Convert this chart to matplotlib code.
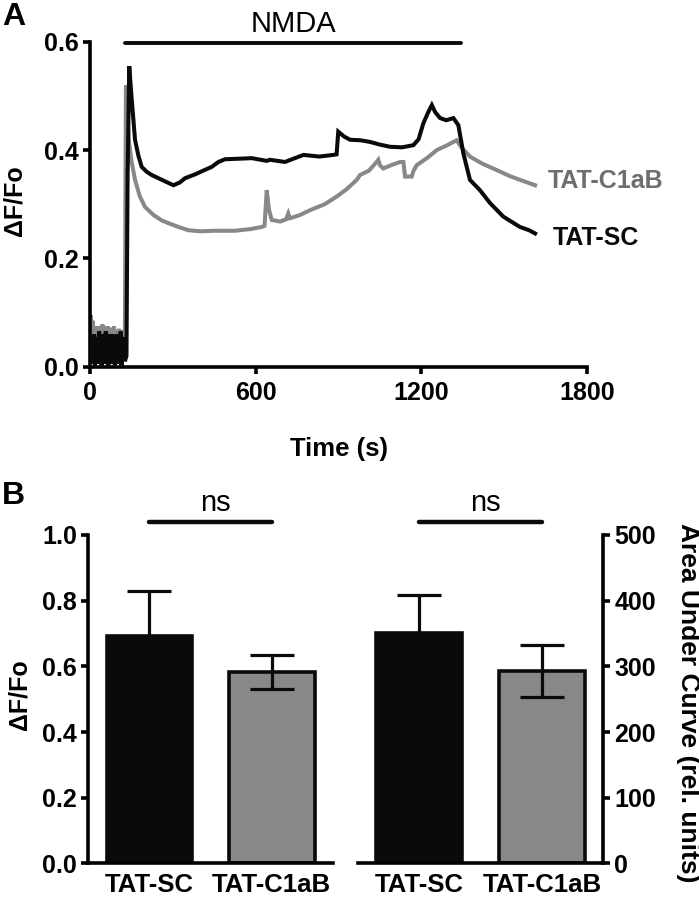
import matplotlib
matplotlib.use("Agg")
import matplotlib.pyplot as plt
import numpy as np

plt.rcParams['font.family'] = ['Liberation Sans', 'DejaVu Sans']

# ---------------- Panel A data ----------------
base_t = list(range(0, 129, 3))
black_base = [0.02, 0.055, 0.005, 0.05, 0.01, 0.06, 0.0, 0.045, 0.015, 0.055, 0.005,
              0.065, 0.01, 0.05, 0.0, 0.06, 0.02, 0.055, 0.005, 0.065, 0.01, 0.05,
              0.0, 0.06, 0.015, 0.055, 0.005, 0.06, 0.01, 0.05, 0.0, 0.055, 0.02,
              0.06, 0.005, 0.05, 0.01, 0.065, 0.0, 0.055, 0.015, 0.05, 0.01]
gray_base = [0.03, 0.095, 0.02, 0.085, 0.03, 0.075, 0.01, 0.07, 0.02, 0.075, 0.03,
             0.07, 0.01, 0.075, 0.02, 0.078, 0.03, 0.072, 0.01, 0.07, 0.02, 0.075,
             0.03, 0.068, 0.01, 0.072, 0.02, 0.07, 0.03, 0.075, 0.01, 0.068, 0.02,
             0.065, 0.03, 0.07, 0.01, 0.065, 0.02, 0.068, 0.03, 0.065, 0.02]

sc_t = [132, 136, 142, 150, 163, 175, 187, 205, 223, 260, 302, 325, 344, 380, 410,
        441, 465, 489, 540, 586, 640, 652, 706, 773, 830, 881, 893, 899, 920, 942,
        980, 1014, 1050, 1087, 1130, 1171, 1190, 1207, 1225, 1238, 1250, 1268, 1290,
        1316, 1334, 1352, 1376, 1412, 1449, 1497, 1557, 1590, 1612]
sc_v = [0.02, 0.35, 0.555, 0.50, 0.419, 0.39, 0.369, 0.36, 0.354, 0.345, 0.335, 0.34,
        0.348, 0.355, 0.362, 0.369, 0.378, 0.383, 0.384, 0.385, 0.38, 0.382, 0.378,
        0.391, 0.388, 0.391, 0.392, 0.434, 0.425, 0.419, 0.418, 0.415, 0.41, 0.406,
        0.405, 0.409, 0.42, 0.449, 0.47, 0.483, 0.47, 0.459, 0.455, 0.459, 0.446,
        0.394, 0.345, 0.326, 0.302, 0.277, 0.258, 0.252, 0.246]

c1_t = [130, 134, 140, 150, 163, 180, 199, 230, 260, 284, 320, 356, 400, 450, 525,
        580, 622, 632, 640, 648, 658, 688, 710, 718, 724, 760, 797, 850, 893, 930,
        966, 978, 1010, 1038, 1044, 1050, 1062, 1090, 1123, 1135, 1141, 1165, 1172,
        1183, 1220, 1256, 1290, 1316, 1328, 1345, 1376, 1420, 1473, 1520, 1557, 1612]
c1_v = [0.52, 0.48, 0.42, 0.38, 0.345, 0.315, 0.295, 0.28, 0.27, 0.265, 0.258, 0.252,
        0.25, 0.251, 0.251, 0.254, 0.258, 0.26, 0.326, 0.29, 0.271, 0.268, 0.272,
        0.283, 0.274, 0.28, 0.289, 0.3, 0.314, 0.328, 0.345, 0.354, 0.362, 0.378,
        0.382, 0.372, 0.366, 0.372, 0.378, 0.378, 0.351, 0.351, 0.362, 0.372, 0.385,
        0.40, 0.408, 0.415, 0.418, 0.405, 0.388, 0.375, 0.363, 0.352, 0.345, 0.335]

nmda_span = [127, 1344]
a_xticks = [0, 600, 1200, 1800]
a_yticks = [0.0, 0.2, 0.4, 0.6]

# ---------------- Panel B data ----------------
groups = ["TAT-SC", "TAT-C1aB"]
peak_mean = [0.691, 0.583]
peak_err = [0.137, 0.053]
auc_mean = [351, 293]
auc_err = [58, 40]
b_left_ticks = [0.0, 0.2, 0.4, 0.6, 0.8, 1.0]
b_right_ticks = [0, 100, 200, 300, 400, 500]

BLACK = '#0a0a0a'
GRAY = '#888888'
GRAY_TXT = '#6e6e6e'
LW = 2.6
TICK_FS = 18

fig = plt.figure(figsize=(6.99, 8.99), dpi=100)

# ---------------- Panel A ----------------
axA = fig.add_axes([0.1288, 0.5921, 0.711, 0.3615])
axA.plot(base_t + c1_t, gray_base + c1_v, color=GRAY, lw=2.9, solid_joinstyle='miter', zorder=2)
axA.plot(base_t + sc_t, black_base + sc_v, color=BLACK, lw=2.9, solid_joinstyle='miter', zorder=3)
axA.set_xlim(0, 1800)
axA.set_ylim(0, 0.6)
axA.set_xticks(a_xticks)
axA.set_yticks(a_yticks)
axA.set_yticklabels([f"{v:.1f}" for v in a_yticks])
for s in ['top', 'right']:
    axA.spines[s].set_visible(False)
for s in ['left', 'bottom']:
    axA.spines[s].set_linewidth(LW)
axA.tick_params(width=LW, length=5, labelsize=TICK_FS, direction='out')
axA.tick_params(axis='x', pad=5)
axA.tick_params(axis='y', pad=3)
for lab in axA.get_xticklabels() + axA.get_yticklabels():
    lab.set_fontweight('bold')
axA.set_xlabel("Time (s)", fontsize=18.5, fontweight='bold')
axA.xaxis.set_label_coords(0.5, -0.216)
axA.set_ylabel("ΔF/Fo", fontsize=18, fontweight='bold', va='center')
axA.yaxis.set_label_coords(-0.151, 0.51)
axA.plot(nmda_span, [0.598, 0.598], color=BLACK, lw=2.8, clip_on=False, solid_capstyle='round')
axA.text(np.mean(nmda_span), 0.618, "NMDA", fontsize=21, ha='center', va='baseline')
axA.text(1659, c1_v[-1] + 0.008, "TAT-C1aB", fontsize=18, fontweight='bold',
         color=GRAY_TXT, ha='left', va='center')
axA.text(1677, 0.237, "TAT-SC", fontsize=18, fontweight='bold', color=BLACK,
         ha='left', va='center')

fig.text(0.003, 0.998, "A", fontsize=23, fontweight='bold', ha='left', va='top')
fig.text(0.003, 0.4655, "B", fontsize=23, fontweight='bold', ha='left', va='top')

# ---------------- Panel B ----------------
x = np.arange(len(groups))
colors = [BLACK, GRAY]

def style_bar_axes(ax, side):
    for s in ['top', 'left', 'right']:
        ax.spines[s].set_visible(False)
    ax.spines['bottom'].set_visible(True)
    ax.spines['bottom'].set_linewidth(LW)
    ax.spines[side].set_visible(True)
    ax.spines[side].set_linewidth(LW)
    ax.set_xlim(-0.5, 1.5)
    ax.set_xticks(x)
    ax.set_xticklabels(groups)
    ax.tick_params(axis='x', length=0, pad=7, labelsize=18.5)
    ax.tick_params(axis='y', width=LW, length=5, labelsize=TICK_FS, pad=3)
    for lab in ax.get_xticklabels() + ax.get_yticklabels():
        lab.set_fontweight('bold')

axB1 = fig.add_axes([0.1263, 0.0395, 0.350, 0.3654])
axB1.bar(x, peak_mean, width=0.70, color=colors, edgecolor=BLACK, linewidth=LW, zorder=2)
axB1.errorbar(x, peak_mean, yerr=peak_err, fmt='none', ecolor=BLACK, elinewidth=2.3,
              capsize=16, capthick=2.3, zorder=3)
axB1.set_ylim(0, 1.0)
axB1.set_yticks(b_left_ticks)
axB1.set_yticklabels([f"{v:.1f}" for v in b_left_ticks])
style_bar_axes(axB1, 'left')
axB1.set_ylabel("ΔF/Fo", fontsize=18, fontweight='bold', va='center')
axB1.yaxis.set_label_coords(-0.283, 0.513)
axB1.plot(x, [1.04, 1.04], color=BLACK, lw=3.2, clip_on=False, solid_capstyle='round')
axB1.text(0.54, 1.097, "ns", fontsize=21, ha='center', va='center')

axB2 = fig.add_axes([0.5122, 0.0395, 0.351, 0.3654])
axB2.bar(x, auc_mean, width=0.70, color=colors, edgecolor=BLACK, linewidth=LW, zorder=2)
axB2.errorbar(x, auc_mean, yerr=auc_err, fmt='none', ecolor=BLACK, elinewidth=2.3,
              capsize=16, capthick=2.3, zorder=3)
axB2.set_ylim(0, 500)
axB2.set_yticks(b_right_ticks)
axB2.yaxis.tick_right()
axB2.yaxis.set_label_position('right')
style_bar_axes(axB2, 'right')
axB2.set_ylabel("Area Under Curve (rel. units)", fontsize=19, fontweight='bold',
                rotation=270, va='center')
axB2.yaxis.set_label_coords(1.345, 0.49)
axB2.plot(x, [520, 520], color=BLACK, lw=3.2, clip_on=False, solid_capstyle='round')
axB2.text(0.54, 548, "ns", fontsize=21, ha='center', va='center')

fig.savefig("out.png", dpi=100)
